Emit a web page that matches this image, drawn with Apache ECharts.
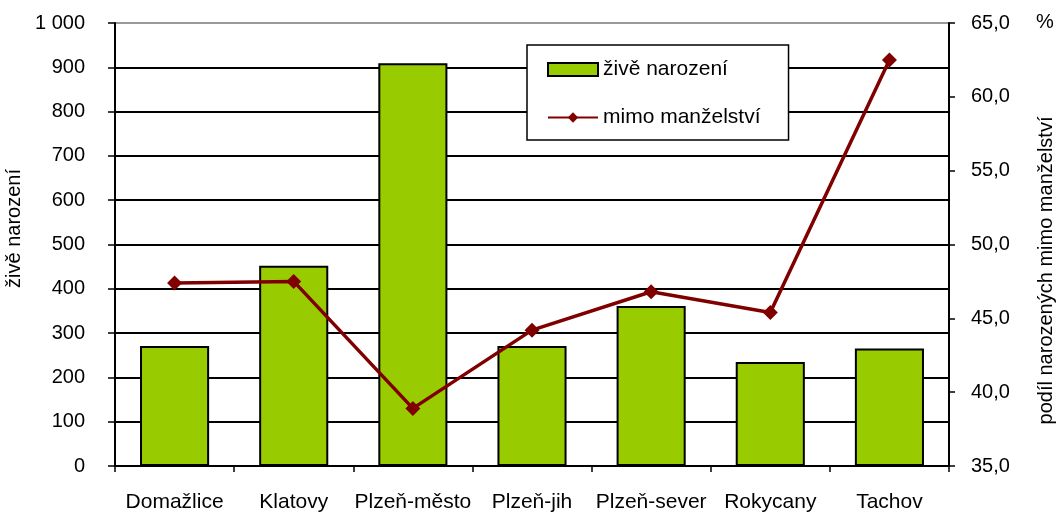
<!DOCTYPE html>
<html lang="cs">
<head>
    <meta charset="UTF-8">
    <title>Živě narození</title>
    <script src="https://cdn.jsdelivr.net/npm/echarts@6/dist/echarts.min.js"></script>
    <style>
        html, body { margin: 0; padding: 0; background: #fff; }
        #chart { width: 1057px; height: 513px; }
    </style>
</head>
<body>
    <div id="chart"></div>
    <script>
        var categories = ['Domažlice', 'Klatovy', 'Plzeň-město', 'Plzeň-jih', 'Plzeň-sever', 'Rokycany', 'Tachov'];
        var births = [271, 452, 909, 271, 361, 235, 265];
        var outsideMarriage = [47.4, 47.5, 38.9, 44.2, 46.8, 45.4, 62.5];

        var leftMin = 0, leftMax = 1000, leftStep = 100;
        var rightMin = 35, rightMax = 65, rightStep = 5;

        var font = "'Liberation Sans', Arial, sans-serif";

        // black grid, grey line on top
        var gridColors = [];
        for (var i = 0; i < 10; i++) gridColors.push('#000');
        gridColors.push('#999');

        var chart = echarts.init(document.getElementById('chart'));
        chart.setOption({
            animation: false,
            textStyle: { fontFamily: font, color: '#000' },
            grid: { left: 115, right: 108, top: 23, bottom: 47, outerBoundsMode: 'none' },
            legend: {
                left: 527,
                top: 45,
                orient: 'vertical',
                backgroundColor: '#fff',
                borderColor: '#000',
                borderWidth: 1.5,
                borderRadius: 0,
                padding: [14, 28, 12, 20],
                itemWidth: 50,
                itemHeight: 13,
                itemGap: 27,
                itemTextGap: 7,
                textStyle: { fontSize: 21, color: '#000', fontFamily: font },
                data: [
                    { name: 'živě narození', icon: 'rect' },
                    { name: 'mimo manželství' }
                ]
            },
            graphic: [{
                type: 'text',
                left: 1036,
                top: 12,
                style: { text: '%', fontSize: 20, fontFamily: font, fill: '#000' }
            }],
            xAxis: {
                type: 'category',
                data: categories,
                axisLine: { lineStyle: { color: '#000', width: 2 } },
                axisTick: { show: true, length: 6, lineStyle: { color: '#000', width: 1.5 } },
                axisLabel: { fontSize: 21, color: '#000', margin: 26, interval: 0 }
            },
            yAxis: [{
                type: 'value',
                min: leftMin,
                max: leftMax,
                interval: leftStep,
                name: 'živě narození',
                nameLocation: 'middle',
                nameRotate: 90,
                nameGap: 84,
                nameTextStyle: { fontSize: 20, color: '#000', padding: [0, 0, 0, 32] },
                axisLine: { show: true, lineStyle: { color: '#000', width: 2 } },
                axisTick: { show: true, length: 7, lineStyle: { color: '#000', width: 1.5 } },
                axisLabel: {
                    fontSize: 20, color: '#000', margin: 30,
                    formatter: function (v) { return String(v).replace(/\B(?=(\d{3})+(?!\d))/g, ' '); }
                },
                splitLine: { show: true, lineStyle: { color: gridColors, width: 2 } }
            }, {
                type: 'value',
                position: 'right',
                min: rightMin,
                max: rightMax,
                interval: rightStep,
                name: 'podíl narozených mimo manželství',
                nameLocation: 'middle',
                nameRotate: 90,
                nameGap: 87,
                nameTextStyle: { fontSize: 20, color: '#000', padding: [0, 52, 0, 0] },
                axisLine: { show: true, lineStyle: { color: '#000', width: 2 } },
                axisTick: { show: true, length: 6, lineStyle: { color: '#000', width: 1.5 } },
                axisLabel: {
                    fontSize: 20, color: '#000', margin: 22,
                    formatter: function (v) { return v.toFixed(1).replace('.', ','); }
                },
                splitLine: { show: false }
            }],
            series: [{
                name: 'živě narození',
                type: 'bar',
                data: births,
                barWidth: '58%',
                itemStyle: { color: '#99cc00', borderColor: '#000', borderWidth: 2 }
            }, {
                name: 'mimo manželství',
                type: 'line',
                yAxisIndex: 1,
                data: outsideMarriage,
                symbol: 'diamond',
                symbolSize: 15,
                lineStyle: { color: '#800000', width: 3.5 },
                itemStyle: { color: '#800000' }
            }]
        });
    </script>
</body>
</html>
